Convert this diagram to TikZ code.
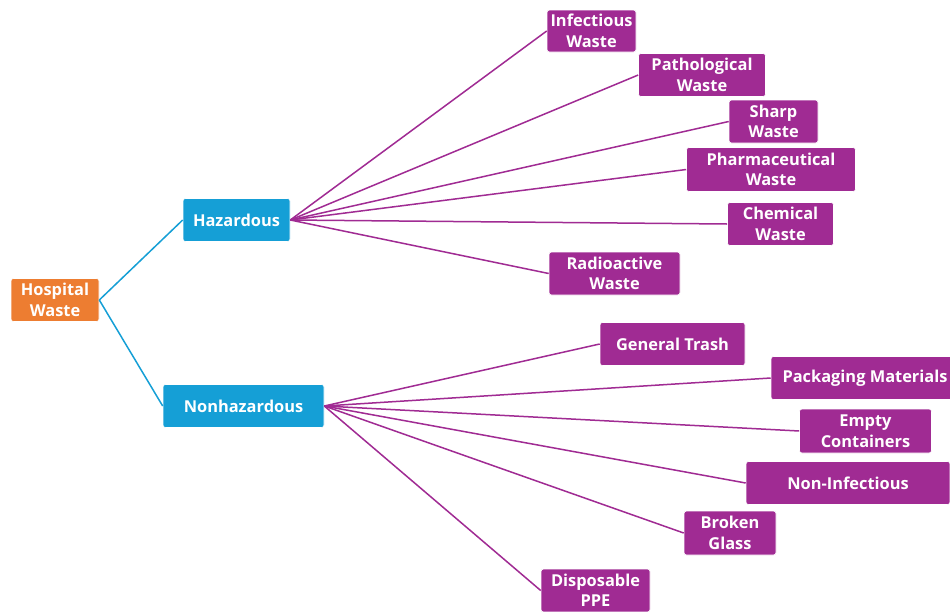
\documentclass[tikz,border=0pt]{standalone}
\usepackage{fontspec}
\setmainfont{Open Sans}
\definecolor{hosporange}{HTML}{ED7D31}
\definecolor{catblue}{HTML}{159FD6}
\definecolor{leafpurple}{HTML}{A02B93}
\begin{document}
\begin{tikzpicture}[x=1pt,y=-1pt,
  box/.style={rectangle, rounded corners=2.5pt, draw=white, line width=0.6pt, text=white,
    font=\fontsize{16.4}{20.5}\selectfont\bfseries, align=center, inner sep=0pt},
  rootbox/.style={box, fill=hosporange},
  catbox/.style={box, fill=catblue},
  leafbox/.style={box, fill=leafpurple},
  blueline/.style={draw=catblue, line width=1.5pt},
  purpline/.style={draw=leafpurple, line width=1.5pt}]
\useasboundingbox (0,0) rectangle (950,611);
\fill[white] (0,0) rectangle (950,611);
% root and categories
\node[rootbox, minimum width=88pt, minimum height=43pt] (hosp) at (55,300) {Hospital\\Waste};
\node[catbox, minimum width=107pt, minimum height=43pt] (haz) at (236.5,220) {Hazardous};
\node[catbox, minimum width=161pt, minimum height=43pt] (nonhaz) at (243.5,406) {Nonhazardous};
% hazardous leaves
\node[leafbox, minimum width=89pt, minimum height=42pt] (inf) at (591.5,31) {Infectious\\Waste};
\node[leafbox, minimum width=127pt, minimum height=43pt] (path) at (702,75) {Pathological\\Waste};
\node[leafbox, minimum width=89pt, minimum height=43pt] (sharp) at (773.5,121.5) {Sharp\\Waste};
\node[leafbox, minimum width=169pt, minimum height=44pt] (pharm) at (771,169.5) {Pharmaceutical\\Waste};
\node[leafbox, minimum width=106pt, minimum height=43pt] (chem) at (780.5,224) {Chemical\\Waste};
\node[leafbox, minimum width=131pt, minimum height=43pt] (radio) at (614.5,273.5) {Radioactive\\Waste};
% nonhazardous leaves
\node[leafbox, minimum width=145pt, minimum height=43pt] (gen) at (672.5,344) {General Trash};
\node[leafbox, minimum width=188pt, minimum height=43pt] (pack) at (865,378) {Packaging Materials};
\node[leafbox, minimum width=132pt, minimum height=44pt] (empty) at (865.5,431) {Empty\\Containers};
\node[leafbox, minimum width=204pt, minimum height=43pt] (noninf) at (848,483) {Non-Infectious};
\node[leafbox, minimum width=92pt, minimum height=44pt] (glass) at (730,533) {Broken\\Glass};
\node[leafbox, minimum width=109pt, minimum height=43pt] (ppe) at (595.5,590.5) {Disposable\\PPE};
% connectors
\draw[blueline] (hosp.east) -- (haz.west);
\draw[blueline] (hosp.east) -- (nonhaz.west);
\foreach \t in {inf,path,sharp,pharm,chem,radio}
  \draw[purpline] (haz.east) -- (\t.west);
\foreach \t in {gen,pack,empty,noninf,glass,ppe}
  \draw[purpline] (nonhaz.east) -- (\t.west);
\end{tikzpicture}
\end{document}
